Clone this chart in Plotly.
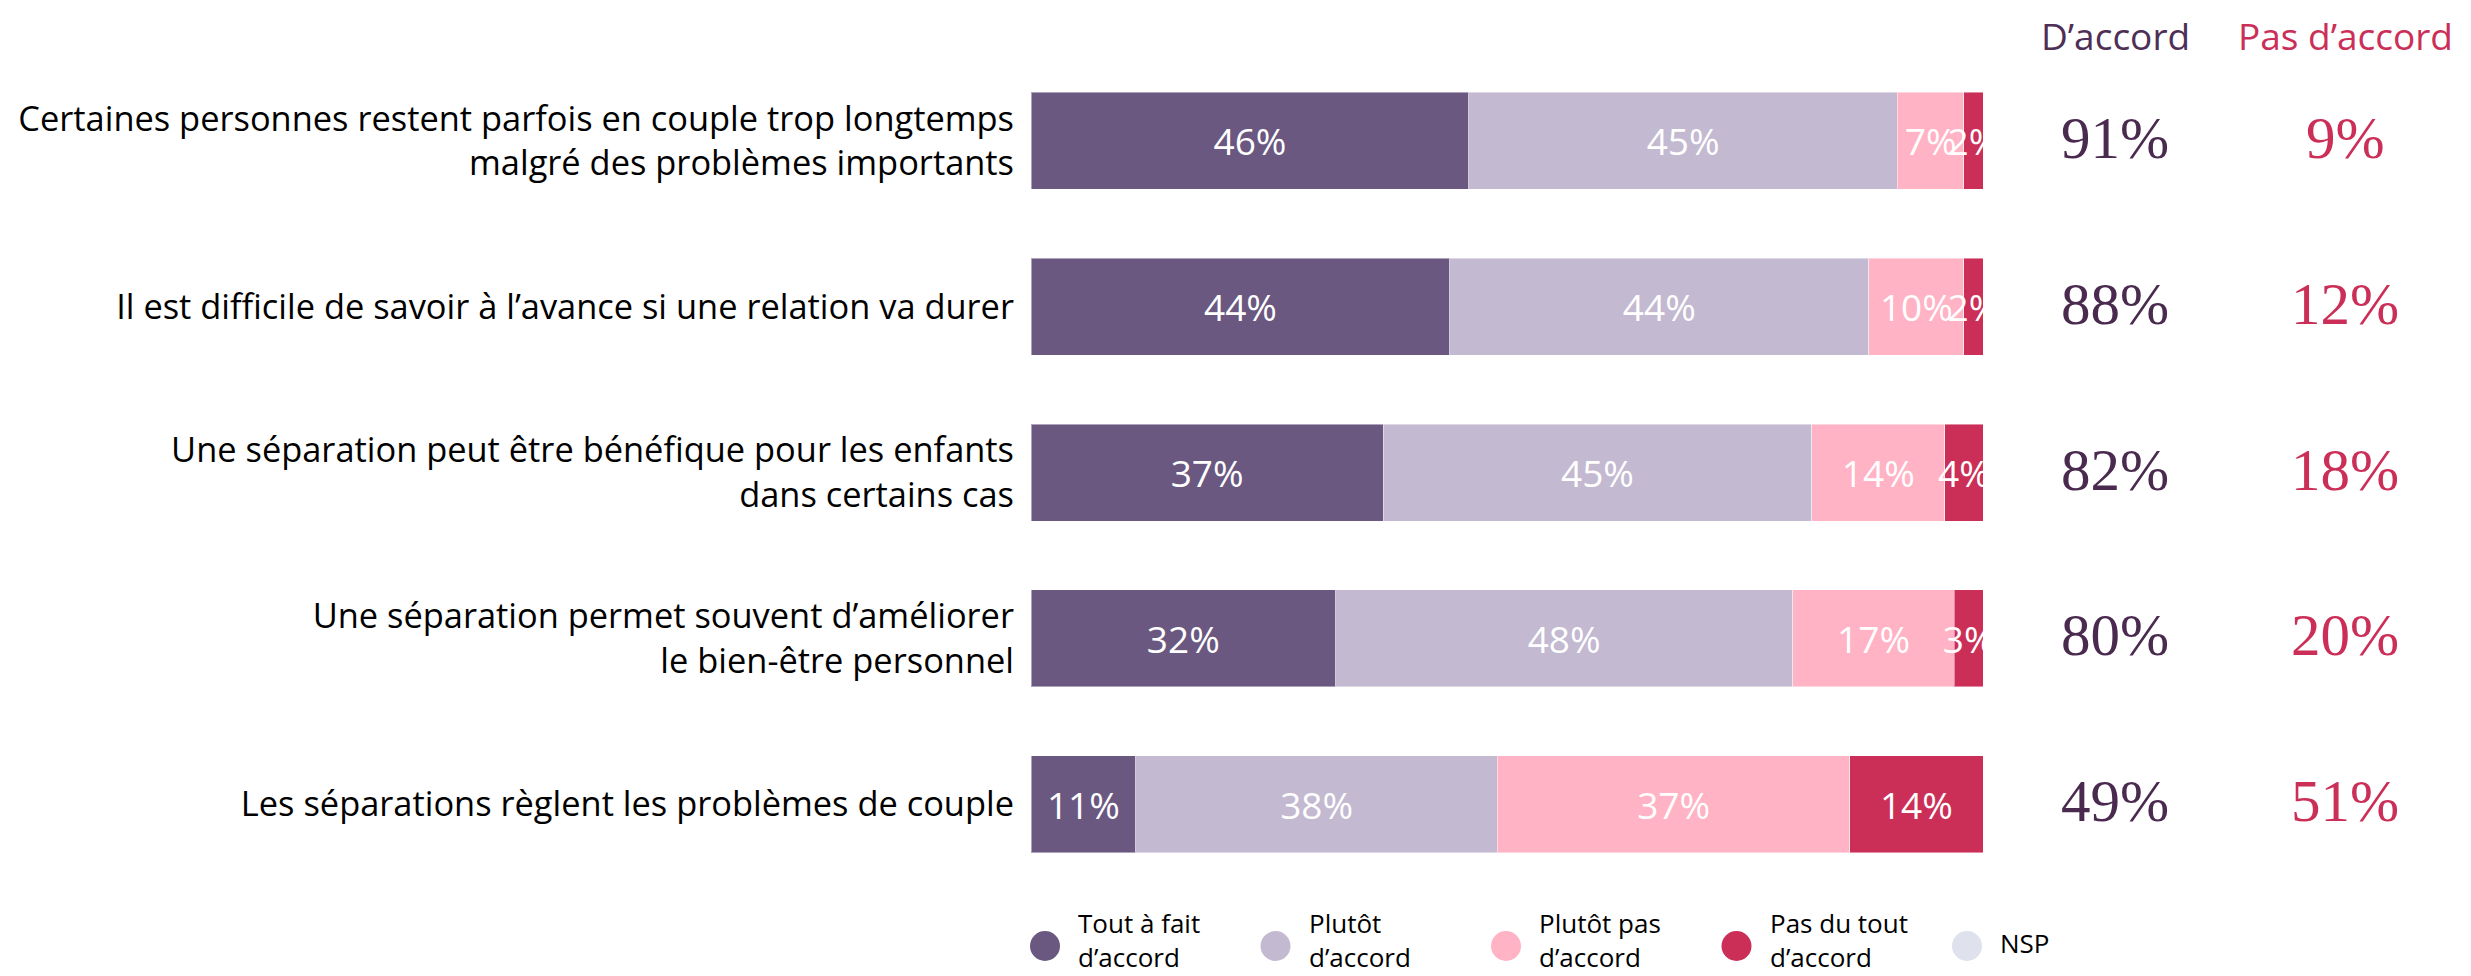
import plotly.graph_objects as go

statements = [
    "Certaines personnes restent parfois en couple trop longtemps<br>malgré des problèmes importants",
    "Il est difficile de savoir à l’avance si une relation va durer",
    "Une séparation peut être bénéfique pour les enfants<br>dans certains cas",
    "Une séparation permet souvent d’améliorer<br>le bien-être personnel",
    "Les séparations règlent les problèmes de couple",
]
tout_a_fait = [46, 44, 37, 32, 11]
plutot = [45, 44, 45, 48, 38]
plutot_pas = [7, 10, 14, 17, 37]
pas_du_tout = [2, 2, 4, 3, 14]
nsp = [0, 0, 0, 0, 0]

series_names = ["Tout à fait<br>d’accord", "Plutôt<br>d’accord", "Plutôt pas<br>d’accord",
                "Pas du tout<br>d’accord", "NSP"]
series_values = [tout_a_fait, plutot, plutot_pas, pas_du_tout, nsp]
colors = ["#6A5881", "#C3B9D1", "#FFB3C5", "#CB2F58", "#DFE1EC"]

col_headers = ["D’accord", "Pas d’accord"]
d_accord = [a + b for a, b in zip(tout_a_fait, plutot)]
pas_d_accord = [a + b for a, b in zip(plutot_pas, pas_du_tout)]

# page body has an 8px margin: the figure is drawn offset by it
OFF = 8
W, H = 2471 - OFF, 976 - OFF

def fx(px):  # screen px (reference) -> figure px
    return px - OFF

x0_px, x1_px = fx(1031), fx(1983)
top_px, bot_px = fx(58), fx(887)
plot_h = bot_px - top_px

FONT = "Open Sans"

def paper_x(px_screen):
    return fx(px_screen) / W

def paper_y(py_screen):
    return (bot_px - fx(py_screen)) / plot_h

fig = go.Figure()
for name, vals, col in zip(series_names, series_values, colors):
    fig.add_trace(go.Bar(
        y=statements, x=vals, orientation="h", name=name.replace("<br>", " "),
        marker=dict(color=col, line=dict(color="rgba(255,255,255,0.45)", width=1)),
        text=[f"{v}%" if v > 0 else "" for v in vals],
        textposition="inside", insidetextanchor="middle", textangle=0,
        constraintext="none", cliponaxis=True,
        textfont=dict(color="white", size=37, family=FONT),
        hoverinfo="skip", showlegend=False,
    ))

annotations = []
shapes = []

# right-hand summary columns
col_x = [2115, 2345]
col_colors_hdr = ["#4E2F55", "#CB2F58"]
col_colors_val = ["#4A2B4F", "#CB2F58"]
for hdr, cx, ch in zip(col_headers, col_x, col_colors_hdr):
    annotations.append(dict(x=paper_x(cx), y=1 + top_px / plot_h, xref="paper", yref="paper",
                            text=hdr, showarrow=False,
                            font=dict(family=FONT, size=37, color=ch),
                            xanchor="center", yanchor="top"))
for vals, cx, cc in zip([d_accord, pas_d_accord], col_x, col_colors_val):
    for s, v in zip(statements, vals):
        annotations.append(dict(x=paper_x(cx), y=s, xref="paper", yref="y", yshift=3,
                                text=f"{v}%", showarrow=False,
                                font=dict(family="Liberation Serif", size=59, color=cc),
                                xanchor="center", yanchor="middle"))

# legend (circles + labels)
leg_start, leg_step, leg_y, r = 1045, 230.5, 946, 15
for i, (name, col) in enumerate(zip(series_names, colors)):
    cx = leg_start + i * leg_step
    shapes.append(dict(type="circle", xref="paper", yref="paper",
                       x0=paper_x(cx - r), x1=paper_x(cx + r),
                       y0=paper_y(leg_y + r), y1=paper_y(leg_y - r),
                       fillcolor=col, line=dict(width=0)))
    ty = 940 if "<br>" in name else leg_y - 3
    annotations.append(dict(x=paper_x(cx + 31), y=paper_y(ty), xref="paper", yref="paper",
                            text=name, showarrow=False, align="left",
                            font=dict(family=FONT, size=26, color="black"),
                            xanchor="left", yanchor="middle"))

fig.update_layout(
    width=W, height=H,
    barmode="stack", bargap=0.415,
    plot_bgcolor="white", paper_bgcolor="white",
    margin=dict(l=0, r=0, t=top_px, b=H - bot_px, pad=0, autoexpand=False),
    font=dict(family=FONT, color="black"),
    xaxis=dict(domain=[x0_px / W, x1_px / W], range=[0, 100], visible=False, fixedrange=True),
    yaxis=dict(categoryorder="array", categoryarray=statements, autorange="reversed",
               showgrid=False, zeroline=False, showline=False, ticks="", automargin=False,
               tickfont=dict(family=FONT, size=34.4, color="black"),
               ticklabelstandoff=16),
    showlegend=False,
    annotations=annotations,
    shapes=shapes,
)

fig.write_html("out.html")
